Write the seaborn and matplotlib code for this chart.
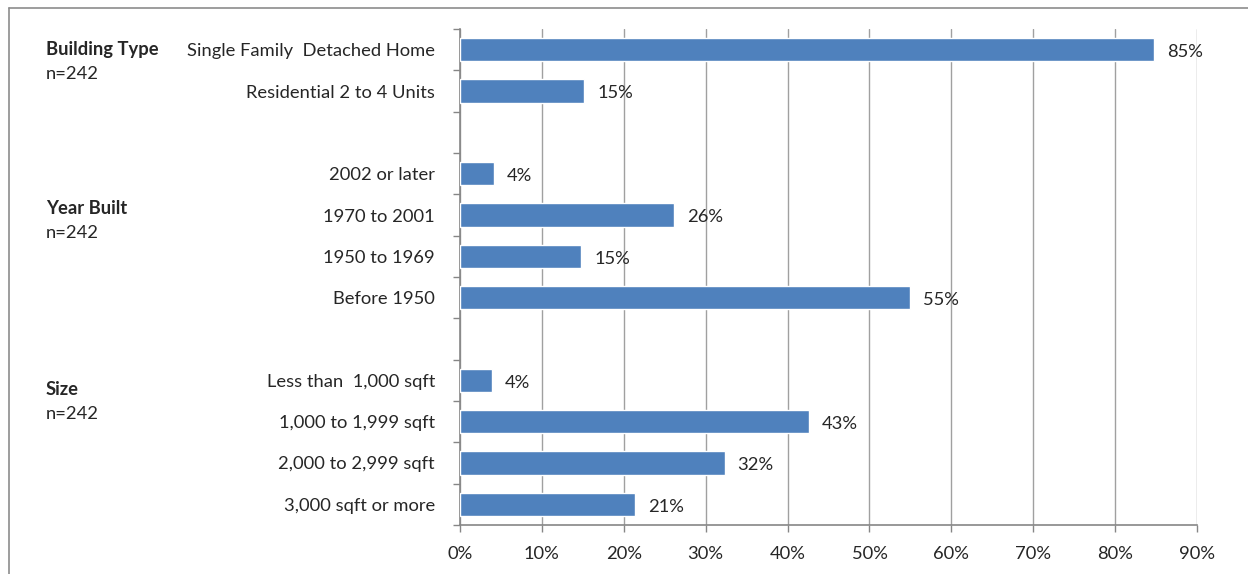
import matplotlib
matplotlib.use('Agg')
import matplotlib.pyplot as plt
from matplotlib.lines import Line2D
import pandas as pd
import seaborn as sns

# rows from top to bottom; blank entries are the gaps between groups
categories = ['Single Family  Detached Home', 'Residential 2 to 4 Units',
              '2002 or later', '1970 to 2001', '1950 to 1969', 'Before 1950',
              'Less than  1,000 sqft', '1,000 to 1,999 sqft', '2,000 to 2,999 sqft',
              '3,000 sqft or more']
values = [84.8, 15.2, 4.1, 26.1, 14.8, 55.0, 3.9, 42.6, 32.3, 21.4]
row_order = categories[:2] + [' '] + categories[2:6] + ['  '] + categories[6:]
groups = ['Building Type', 'Year Built', 'Size']
group_n = ['n=242', 'n=242', 'n=242']
group_rows = [0, 3.85, 8.22]  # row where each group title sits
xticks = [0, 10, 20, 30, 40, 50, 60, 70, 80, 90]

BAR = '#4F81BD'
GRID = '#A0A0A0'
W, H = 1248, 574
FS = 13.2

sns.set_style('white')
plt.rcParams['font.family'] = ['Lato', 'DejaVu Sans']

df = pd.DataFrame({'cat': categories, 'val': values})

fig = plt.figure(figsize=(W / 100, H / 100), dpi=100)
ax = fig.add_axes([460 / W, 1 - 525 / H, (1197 - 460) / W, (525 - 29) / H])
sns.barplot(data=df, x='val', y='cat', order=row_order, color=BAR,
            width=0.57, saturation=1, ax=ax, zorder=3)

ax.set_xlim(0, 90)
ax.set_ylim(len(row_order) - 0.5, -0.5)
ax.set_xticks(xticks)
ax.set_xticklabels([f'{t}%' for t in xticks], fontsize=FS)
ax.set_yticks(range(len(row_order)))
ax.set_yticklabels(row_order, fontsize=FS)
ax.set_yticks([i - 0.5 for i in range(len(row_order) + 1)], minor=True)
ax.tick_params(axis='y', which='major', length=0, pad=18)
ax.tick_params(axis='y', which='minor', length=5, color='#868686', width=1, left=True)
ax.tick_params(axis='x', length=5, color='#868686', width=1, bottom=True, pad=10)
ax.set_xlabel('')
ax.set_ylabel('')
ax.grid(axis='x', color=GRID, linewidth=1, zorder=0)
ax.set_axisbelow(True)
for s in ['top', 'right']:
    ax.spines[s].set_visible(False)
for s in ['left', 'bottom']:
    ax.spines[s].set_color('#868686')
    ax.spines[s].set_linewidth(1.2)

for cat, v in zip(categories, values):
    ax.text(v + 1.6, row_order.index(cat) + 0.06, f'{round(v)}%', va='center',
            ha='left', fontsize=FS, zorder=4)

trans = matplotlib.transforms.blended_transform_factory(fig.transFigure, ax.transData)
for g, n, r in zip(groups, group_n, group_rows):
    ax.text(46 / W, r, g, transform=trans, fontsize=FS, fontweight='bold',
            va='center', ha='left', clip_on=False)
    ax.text(46 / W, r + 0.59, n, transform=trans, fontsize=FS,
            va='center', ha='left', clip_on=False)

# outer frame (runs off the right and bottom edges)
fy = 1 - 7.5 / H
fx = 8.5 / W
fig.add_artist(Line2D([fx, 1], [fy, fy], transform=fig.transFigure, color='#8C8C8C', lw=1.2))
fig.add_artist(Line2D([fx, fx], [0, fy], transform=fig.transFigure, color='#8C8C8C', lw=1.2))

fig.savefig('out.png', dpi=100)
